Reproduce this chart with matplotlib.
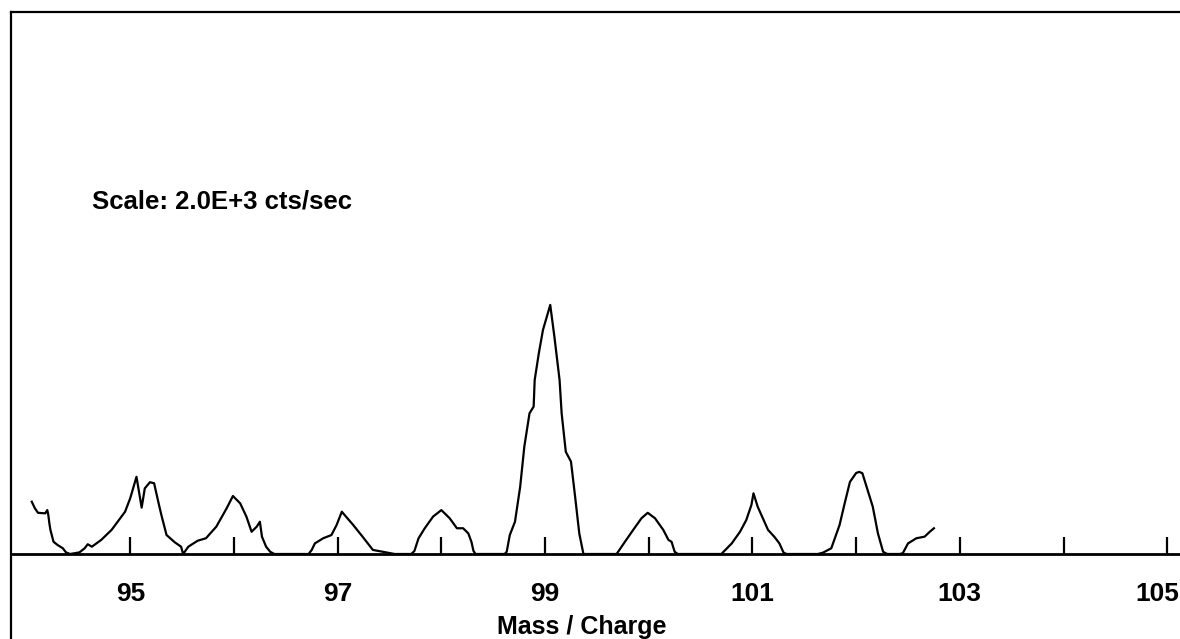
import matplotlib
matplotlib.use("Agg")
import matplotlib.pyplot as plt
from matplotlib.transforms import ScaledTranslation

plt.rcParams['font.family'] = ['Liberation Sans', 'DejaVu Sans']

# trace: mass/charge and intensity (cts/sec)
mass = [
    94.05, 94.08, 94.11, 94.18, 94.20, 94.21, 94.22, 94.23, 94.26, 94.30,
    94.35, 94.38, 94.42, 94.51, 94.56, 94.59, 94.63, 94.72, 94.82, 94.95,
    95.00, 95.06, 95.11, 95.14, 95.19, 95.23, 95.27, 95.30, 95.35, 95.43,
    95.49, 95.51, 95.56, 95.65, 95.73, 95.83, 95.93, 95.99, 96.06, 96.12,
    96.17, 96.22, 96.25, 96.27, 96.31, 96.35, 96.39,
    96.72, 96.75, 96.78, 96.86, 96.94, 96.99, 97.04, 97.15, 97.24, 97.34,
    97.44, 97.55,
    97.71, 97.74, 97.78, 97.84, 97.92, 98.00, 98.08, 98.15, 98.21, 98.26,
    98.29, 98.31, 98.33,
    98.61, 98.63, 98.66, 98.71, 98.76, 98.80, 98.85, 98.89, 98.90, 98.94,
    98.98, 99.05, 99.09, 99.14, 99.16, 99.20, 99.25, 99.29, 99.33, 99.37,
    99.69, 99.77, 99.85, 99.93, 99.99, 100.06, 100.14, 100.19, 100.22,
    100.25, 100.28,
    100.70, 100.80, 100.88, 100.94, 100.99, 101.01, 101.05, 101.10, 101.15,
    101.21, 101.26, 101.30, 101.33,
    101.63, 101.68, 101.76, 101.84, 101.89, 101.94, 102.00, 102.03, 102.06,
    102.11, 102.16, 102.21, 102.26, 102.30,
    102.42, 102.45, 102.50, 102.58, 102.66, 102.71, 102.75,
]
counts = [
    193, 169, 152, 150, 162, 144, 113, 89, 45, 33,
    21, 6, 0, 6, 21, 36, 27, 52, 89, 156,
    206, 285, 171, 242, 265, 261, 193, 144, 70, 43,
    27, 0, 27, 49, 58, 101, 169, 214, 187, 138,
    82, 101, 119, 64, 27, 8, 0,
    0, 15, 39, 58, 70, 107, 156, 107, 64, 15,
    8, 0,
    0, 11, 58, 95, 138, 162, 132, 95, 95, 76,
    45, 11, 0,
    0, 8, 70, 119, 248, 396, 519, 544, 642, 741,
    827, 919, 802, 642, 519, 377, 341, 211, 76, 0,
    0, 45, 89, 132, 152, 132, 89, 52, 45,
    8, 0,
    0, 39, 82, 125, 181, 224, 175, 132, 89,
    64, 39, 5, 0,
    0, 5, 21, 107, 188, 266, 299, 303, 298,
    236, 175, 76, 8, 0,
    0, 3, 39, 58, 64, 82, 95,
]

labeled_ticks = [95, 97, 99, 101, 103, 105]
minor_ticks = [96, 98, 100, 102, 104]
full_scale = 2000  # 2.0E+3 cts/sec

fig = plt.figure(figsize=(11.8, 6.39), dpi=100)
ax = fig.add_axes([11 / 1180, 0.0, 1 - 11 / 1180, 1 - 12 / 639])

ax.plot(mass, counts, color='black', linewidth=1.6)

ax.set_xlim(93.85, 93.85 + 1169 / 103.7)
ax.set_ylim(-85 * full_scale / 542, full_scale)

ax.spines['right'].set_visible(False)
ax.spines['left'].set_linewidth(1.6)
ax.spines['top'].set_linewidth(1.6)
ax.spines['bottom'].set_position(('data', 0))
ax.spines['bottom'].set_linewidth(2.0)

ax.set_yticks([])
ax.set_xticks(labeled_ticks)
ax.set_xticks(minor_ticks, minor=True)
ax.set_xticklabels([str(t) for t in labeled_ticks])
ax.tick_params(axis='x', which='both', direction='in', length=12, width=1.6,
               color='black')
ax.tick_params(axis='x', which='major', pad=20, labelsize=19)
for lbl in ax.get_xticklabels():
    lbl.set_fontweight('bold')

# last label sits pulled in from the right edge, as in the scan
last = ax.xaxis.get_major_ticks()[-1].label1
last.set_transform(last.get_transform() + ScaledTranslation(-10 / 100, 0, fig.dpi_scale_trans))

ax.set_xlabel('Mass / Charge', fontsize=18, fontweight='bold')
ax.xaxis.set_label_coords((582 - 11) / 1169, (639 - 615) / 627)

ax.text((92 - 11) / 1169, (639 - 202) / 627, 'Scale: 2.0E+3 cts/sec',
        transform=ax.transAxes, ha='left', va='center',
        fontsize=18.5, fontweight='bold')

fig.savefig('out.png', dpi=100)
